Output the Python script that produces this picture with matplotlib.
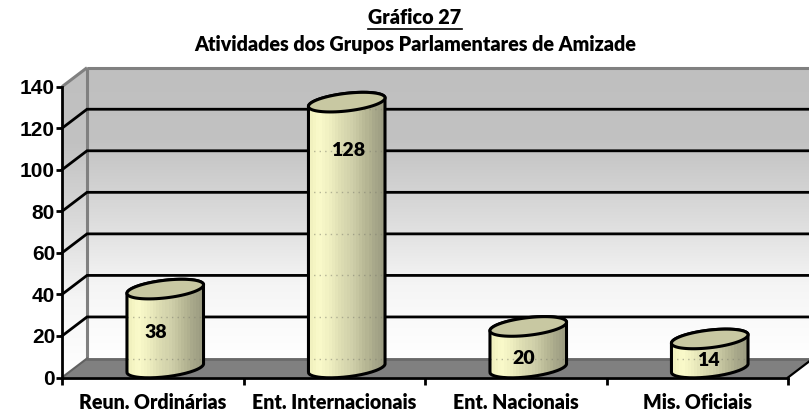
import numpy as np
import matplotlib
matplotlib.use("Agg")
import matplotlib.pyplot as plt
from matplotlib.patches import Polygon, PathPatch
from matplotlib.path import Path
from matplotlib.colors import LinearSegmentedColormap

categories = ["Reun. Ordinárias", "Ent. Internacionais", "Ent. Nacionais", "Mis. Oficiais"]
values = [38, 128, 20, 14]
y_ticks = [0, 20, 40, 60, 80, 100, 120, 140]
title_top = "Gráfico 27"
title_sub = "Atividades dos Grupos Parlamentares de Amizade"

W, H = 809, 412
fig = plt.figure(figsize=(W / 100, H / 100), dpi=100, facecolor="white")
L, R, B, T = 62, 788, 377.5, 86.7
ax = fig.add_axes([L / W, (H - B) / H, (R - L) / W, (B - T) / H])

XMAX, YMAX = 4, 140
sx = (R - L) / XMAX        # pixels per x unit
sy = (B - T) / YMAX        # pixels per y unit
DX = 25 / sx               # depth offset, data units
DY = 19 / sy
TXT = dict(family="Lato", weight=800)

# --- walls ---
wall_cmap = LinearSegmentedColormap.from_list("w", ["#ffffff", "#f5f5f5", "#dadada", "#c2c2c2", "#bfbfbf"])
grad = np.linspace(0, 1, 256)[::-1].reshape(-1, 1)
back = ax.imshow(grad, extent=[DX, XMAX + DX, DY, YMAX + DY], aspect="auto",
                 cmap=wall_cmap, zorder=1, clip_on=False)
side = ax.imshow(grad, extent=[0, DX, 0, YMAX + DY], aspect="auto",
                 cmap=wall_cmap, zorder=1)
side_poly = Polygon([(0, 0), (DX, DY), (DX, YMAX + DY), (0, YMAX)], transform=ax.transData,
                    fc="none", ec="none")
ax.add_patch(side_poly)
side_poly.set_clip_on(False)
side.set_clip_path(side_poly)
side.set_clip_box(fig.bbox)
ax.add_patch(Polygon([(0, 0), (XMAX, 0), (XMAX + DX, DY), (DX, DY)], fc="#808080", ec="none",
                     zorder=2, clip_on=False))

# --- wall frame ---
frame_kw = dict(color="#808080", lw=2.2, zorder=3, clip_on=False, solid_capstyle="butt")
ax.plot([DX, DX], [DY, YMAX + DY], **frame_kw)
ax.plot([DX, XMAX + DX], [YMAX + DY, YMAX + DY], **frame_kw)
ax.plot([0, DX], [YMAX, YMAX + DY], **frame_kw)
ax.plot([0, DX], [0, DY], color="#606060", lw=1.5, zorder=3, clip_on=False)
ax.plot([DX, XMAX + DX], [DY, DY], color="#6a6a6a", lw=2, zorder=3, clip_on=False)

# --- gridlines ---
for v in y_ticks[1:-1]:
    ax.plot([0, DX, XMAX + DX], [v, v + DY, v + DY], color="black", lw=2, zorder=4,
            clip_on=False, solid_joinstyle="miter")
ax.plot([XMAX, XMAX + DX], [0, DY], color="black", lw=1.6, zorder=4, clip_on=False)

# --- cylinders ---
A, Bb = 38.5, 9.0
THETA = np.deg2rad(6)
body_cmap = LinearSegmentedColormap.from_list(
    "c", ["#eeeebb", "#fbfbcb", "#eeeec0", "#dcdcb2", "#d0d0aa", "#bcbc98", "#a8a88a", "#9a9a80"])
STRIPES = 26


def ell(cx, cy, t):
    """Tilted ellipse around a data point, shaped in pixels, returned in data units."""
    px = A * np.cos(t) * np.cos(THETA) + Bb * np.sin(t) * np.sin(THETA)
    py = A * np.cos(t) * np.sin(THETA) + Bb * np.sin(t) * np.cos(THETA)
    return np.column_stack([cx + px / sx, cy + py / sy])


for i, v in enumerate(values):
    cx = i + 0.5 + DX / 2
    y0 = DY / 2
    low = ell(cx, y0, np.linspace(np.pi, 2 * np.pi, 80))
    up = ell(cx, y0 + v, np.linspace(0, np.pi, 80))
    body_pts = np.vstack([low, up, low[:1]])
    body_path = Path(body_pts)
    stripes = np.linspace(0, 1, STRIPES).reshape(1, -1)
    ext = [cx - (A + 1) / sx, cx + (A + 1) / sx, 0, y0 + v + 15 / sy]
    im = ax.imshow(stripes, extent=ext, aspect="auto", cmap=body_cmap,
                   interpolation="nearest", zorder=5)
    outline = PathPatch(body_path, fc="none", ec="black", lw=2.2, zorder=7, clip_on=False,
                        transform=ax.transData)
    ax.add_patch(outline)
    im.set_clip_path(outline)
    im.set_clip_box(fig.bbox)
    # faint dotted traces where gridlines pass behind the body
    for g in [0] + y_ticks[1:-1]:
        if g < v:
            ln, = ax.plot([cx - A / sx, cx + A / sx], [g + DY, g + DY], color="#808070",
                          lw=1.0, ls=(0, (1, 3)), alpha=0.55, zorder=6)
            ln.set_clip_path(outline)
    top = ell(cx, y0 + v, np.linspace(0, 2 * np.pi, 160))
    ax.add_patch(Polygon(top, closed=True, fc="#c8c8a2", ec="black", lw=2.2, zorder=8, clip_on=False))

# --- data labels: anchored from each value's cylinder top, in pixel offsets ---
label_offsets_px = [(-9, -43), (1, -48), (-5, -32), (-1, -22)]
for i, v in enumerate(values):
    dx_px, dy_px = label_offsets_px[i]
    ax.text(i + 0.5 + DX / 2 + dx_px / sx, DY / 2 + v + dy_px / sy, str(v), ha="center",
            va="center", fontsize=14, color="black", zorder=10, **TXT)

# --- axes ---
ax.set_xlim(0, XMAX)
ax.set_ylim(0, YMAX)
for s in ("top", "right"):
    ax.spines[s].set_visible(False)
for s in ("left", "bottom"):
    ax.spines[s].set_linewidth(2)
    ax.spines[s].set_zorder(9)
ax.patch.set_alpha(0)
ax.set_yticks(y_ticks)
ax.set_yticklabels([str(v) for v in y_ticks], family="Liberation Sans", weight="bold", fontsize=15)
ax.tick_params(axis="y", length=4, width=2, pad=1)
ax.set_xticks(range(XMAX + 1))
ax.set_xticklabels([])
ax.tick_params(axis="x", which="major", length=5, width=2)
ax.set_xticks(np.arange(len(categories)) + 0.5, minor=True)
ax.set_xticklabels(categories, minor=True, fontsize=14.1, **TXT)
ax.tick_params(axis="x", which="minor", length=0, pad=11.5)

# --- titles ---
tx = 415 / W
t1 = fig.text(tx, 1 - 18 / H, title_top, ha="center", va="center", fontsize=14.2, **TXT)
fig.text(tx, 1 - 45 / H, title_sub, ha="center", va="center", fontsize=14.2, **TXT)
fig.canvas.draw()
bb = t1.get_window_extent()
fig.add_artist(plt.Line2D([bb.x0 / W, bb.x1 / W], [1 - 28.5 / H, 1 - 28.5 / H], color="black", lw=1.2,
                          transform=fig.transFigure))

fig.savefig("out.png", dpi=100)
